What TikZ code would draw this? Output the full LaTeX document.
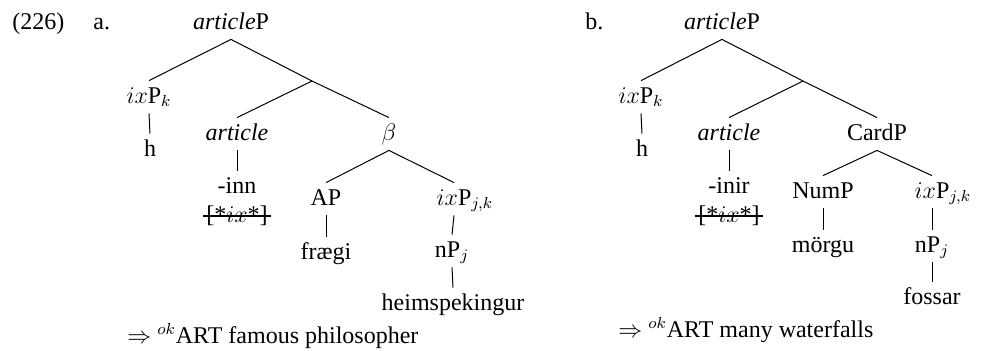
\documentclass[tikz,border=0pt]{standalone}
\usepackage{fontspec}
\setmainfont{Liberation Serif}
\begin{document}
\begin{tikzpicture}[x=0.5pt,y=-0.5pt,
  every node/.style={font=\fontsize{12}{14}\selectfont},
  lab/.style={anchor=base, inner xsep=0pt, inner ysep=3pt, text height=8pt, text depth=2pt},
  free/.style={anchor=base west, inner sep=0pt},
  edge/.style={line width=0.5pt},
  strike/.style={line width=0.7pt, shorten <=-1.5pt, shorten >=-1.5pt}]
\useasboundingbox (0,0) rectangle (982,350);
% ---------- (226) a. ----------
\node[free] (ex) at (12,29) {(226)};
\node[free] (la) at (93,29) {a.};
\node[lab] (rootA) at (231,29) {\textit{article}P};
\coordinate (barA) at (312,81);
\node[lab] (ixPkA) at (149,103) {$ix$P$_k$};
\node[lab] (hA) at (150,156) {h};
\node[lab] (artA) at (237,140) {\textit{article}};
\node[lab] (innA) at (237,193) {-inn};
\node[lab] (strA) at (237,222) {[*$ix$*]};
\node[lab] (betaA) at (389,140) {$\beta$};
\node[lab] (APA) at (326,205) {AP};
\node[lab] (ixPjkA) at (454,205) {$ix$P\rlap{$_{j,k}$}};
\node[lab] (frA) at (326,259) {frægi};
\node[lab] (nPjA) at (452,257) {nP$_j$};
\node[lab] (heimA) at (453,310) {heimspekingur};
\node[free] (arrA) at (127,343) {$\Rightarrow$ $^{ok}$ART famous philosopher};
\draw[edge] (rootA.south) -- (ixPkA.north);
\draw[edge] (rootA.south) -- (barA);
\draw[edge] (barA) -- (betaA.north);
\draw[edge] (barA) -- (artA.north);
\draw[edge] (ixPkA.south) -- (hA.north);
\draw[edge] (artA.south) -- (innA.north);
\draw[edge] (betaA.south) -- (APA.north);
\draw[edge] (betaA.south) -- (ixPjkA.north);
\draw[edge] (APA.south) -- (frA.north);
\draw[edge] (ixPjkA.south) -- (nPjA.north);
\draw[edge] (nPjA.south) -- (heimA.north);
\draw[strike] ([yshift=3pt]strA.base west) -- ([yshift=3pt]strA.base east);
% ---------- b. ----------
\node[free] (lb) at (585,29) {b.};
\node[lab] (rootB) at (722,29) {\textit{article}P};
\coordinate (barB) at (803,81);
\node[lab] (ixPkB) at (641,103) {$ix$P$_k$};
\node[lab] (hB) at (642,156) {h};
\node[lab] (artB) at (729,140) {\textit{article}};
\node[lab] (inirB) at (729,193) {-inir};
\node[lab] (strB) at (729,222) {[*$ix$*]};
\node[lab] (cardB) at (877,140) {CardP};
\node[lab] (numB) at (823,198) {NumP};
\node[lab] (ixPjkB) at (932,198) {$ix$P\rlap{$_{j,k}$}};
\node[lab] (morB) at (823,252) {mörgu};
\node[lab] (nPjB) at (932,252) {nP$_j$};
\node[lab] (fosB) at (932,304) {fossar};
\node[free] (arrB) at (618,337) {$\Rightarrow$ $^{ok}$ART many waterfalls};
\draw[edge] (rootB.south) -- (ixPkB.north);
\draw[edge] (rootB.south) -- (barB);
\draw[edge] (barB) -- (cardB.north);
\draw[edge] (barB) -- (artB.north);
\draw[edge] (ixPkB.south) -- (hB.north);
\draw[edge] (artB.south) -- (inirB.north);
\draw[edge] (cardB.south) -- (numB.north);
\draw[edge] (cardB.south) -- (ixPjkB.north);
\draw[edge] (numB.south) -- (morB.north);
\draw[edge] (ixPjkB.south) -- (nPjB.north);
\draw[edge] (nPjB.south) -- (fosB.north);
\draw[strike] ([yshift=3pt]strB.base west) -- ([yshift=3pt]strB.base east);
\end{tikzpicture}
\end{document}
